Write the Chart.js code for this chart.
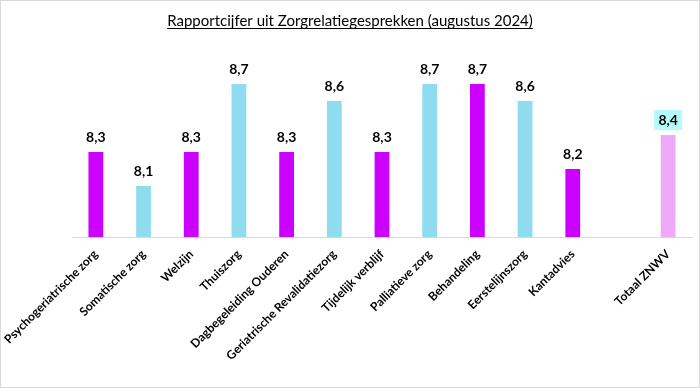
<!DOCTYPE html>
<html>
<head>
<meta charset="utf-8">
<script src="https://cdn.jsdelivr.net/npm/chart.js@4"></script>
<style>
  body { margin: 0; background: #fff; }
  #wrap { width: 700px; height: 388px; box-sizing: border-box; border: 1px solid #d9d9d9; position: relative; }
</style>
</head>
<body>
<div id="wrap"><canvas id="zorgChart"></canvas></div>
<script>
const categories = ['Psychogeriatrische zorg', 'Somatische zorg', 'Welzijn', 'Thuiszorg', 'Dagbegeleiding Ouderen',
  'Geriatrische Revalidatiezorg', 'Tijdelijk verblijf', 'Palliatieve zorg', 'Behandeling', 'Eerstelijnszorg',
  'Kantadvies', '', 'Totaal ZNWV'];
const scores = [8.3, 8.1, 8.3, 8.7, 8.3, 8.6, 8.3, 8.7, 8.7, 8.6, 8.2, null, 8.4];
const barColors = ['#cc00ff', '#8fdcf0', '#cc00ff', '#8fdcf0', '#cc00ff', '#8fdcf0', '#cc00ff', '#8fdcf0',
  '#cc00ff', '#8fdcf0', '#cc00ff', '#ffffff', '#eeaaf8'];
const highlightLabel = 'Totaal ZNWV';

const titleText = 'Rapportcijfer uit Zorgrelatiegesprekken (augustus 2024)';

// title with underline, drawn on the canvas
const titlePlugin = {
  id: 'underlinedTitle',
  afterDraw(chart) {
    const ctx = chart.ctx;
    ctx.save();
    ctx.font = '15px Lato, "Open Sans", sans-serif';
    ctx.fillStyle = '#000';
    ctx.textAlign = 'center';
    ctx.textBaseline = 'alphabetic';
    const x = chart.width / 2;
    ctx.fillText(titleText, x, 25);
    const w = ctx.measureText(titleText).width;
    ctx.fillRect(x - w / 2, 27, w, 1);
    ctx.restore();
  }
};

// value labels above bars
const valueLabels = {
  id: 'valueLabels',
  afterDatasetsDraw(chart) {
    const ctx = chart.ctx;
    const meta = chart.getDatasetMeta(0);
    ctx.save();
    ctx.font = 'bold 14px Lato, "Open Sans", sans-serif';
    ctx.textAlign = 'center';
    ctx.textBaseline = 'middle';
    meta.data.forEach((bar, i) => {
      const v = scores[i];
      if (v == null) return;
      const txt = v.toFixed(1).replace('.', ',');
      const y = bar.y - 15;
      if (categories[i] === highlightLabel) {
        ctx.fillStyle = '#b5fbfb';
        ctx.fillRect(bar.x - 14, y - 10, 28, 20);
      }
      ctx.fillStyle = '#000';
      ctx.fillText(txt, bar.x, y);
    });
    ctx.restore();
  }
};

new Chart(document.getElementById('zorgChart'), {
  type: 'bar',
  data: {
    labels: categories,
    datasets: [{
      data: scores,
      backgroundColor: barColors,
      barPercentage: 0.62,
      categoryPercentage: 0.5
    }]
  },
  options: {
    responsive: true,
    maintainAspectRatio: false,
    animation: false,
    layout: { padding: { top: 66, left: 71, right: 7, bottom: 22 } },
    plugins: { legend: { display: false }, tooltip: { enabled: false } },
    scales: {
      x: {
        grid: { display: false },
        border: { color: '#d9d9d9', width: 1 },
        ticks: {
          color: '#000',
          maxRotation: 45,
          minRotation: 45,
          autoSkip: false,
          padding: 2,
          font: { family: 'Lato, "Open Sans", sans-serif', size: 12, weight: 'bold' }
        }
      },
      y: {
        display: false,
        min: 7.8,
        max: 8.8
      }
    }
  },
  plugins: [titlePlugin, valueLabels]
});
</script>
</body>
</html>
